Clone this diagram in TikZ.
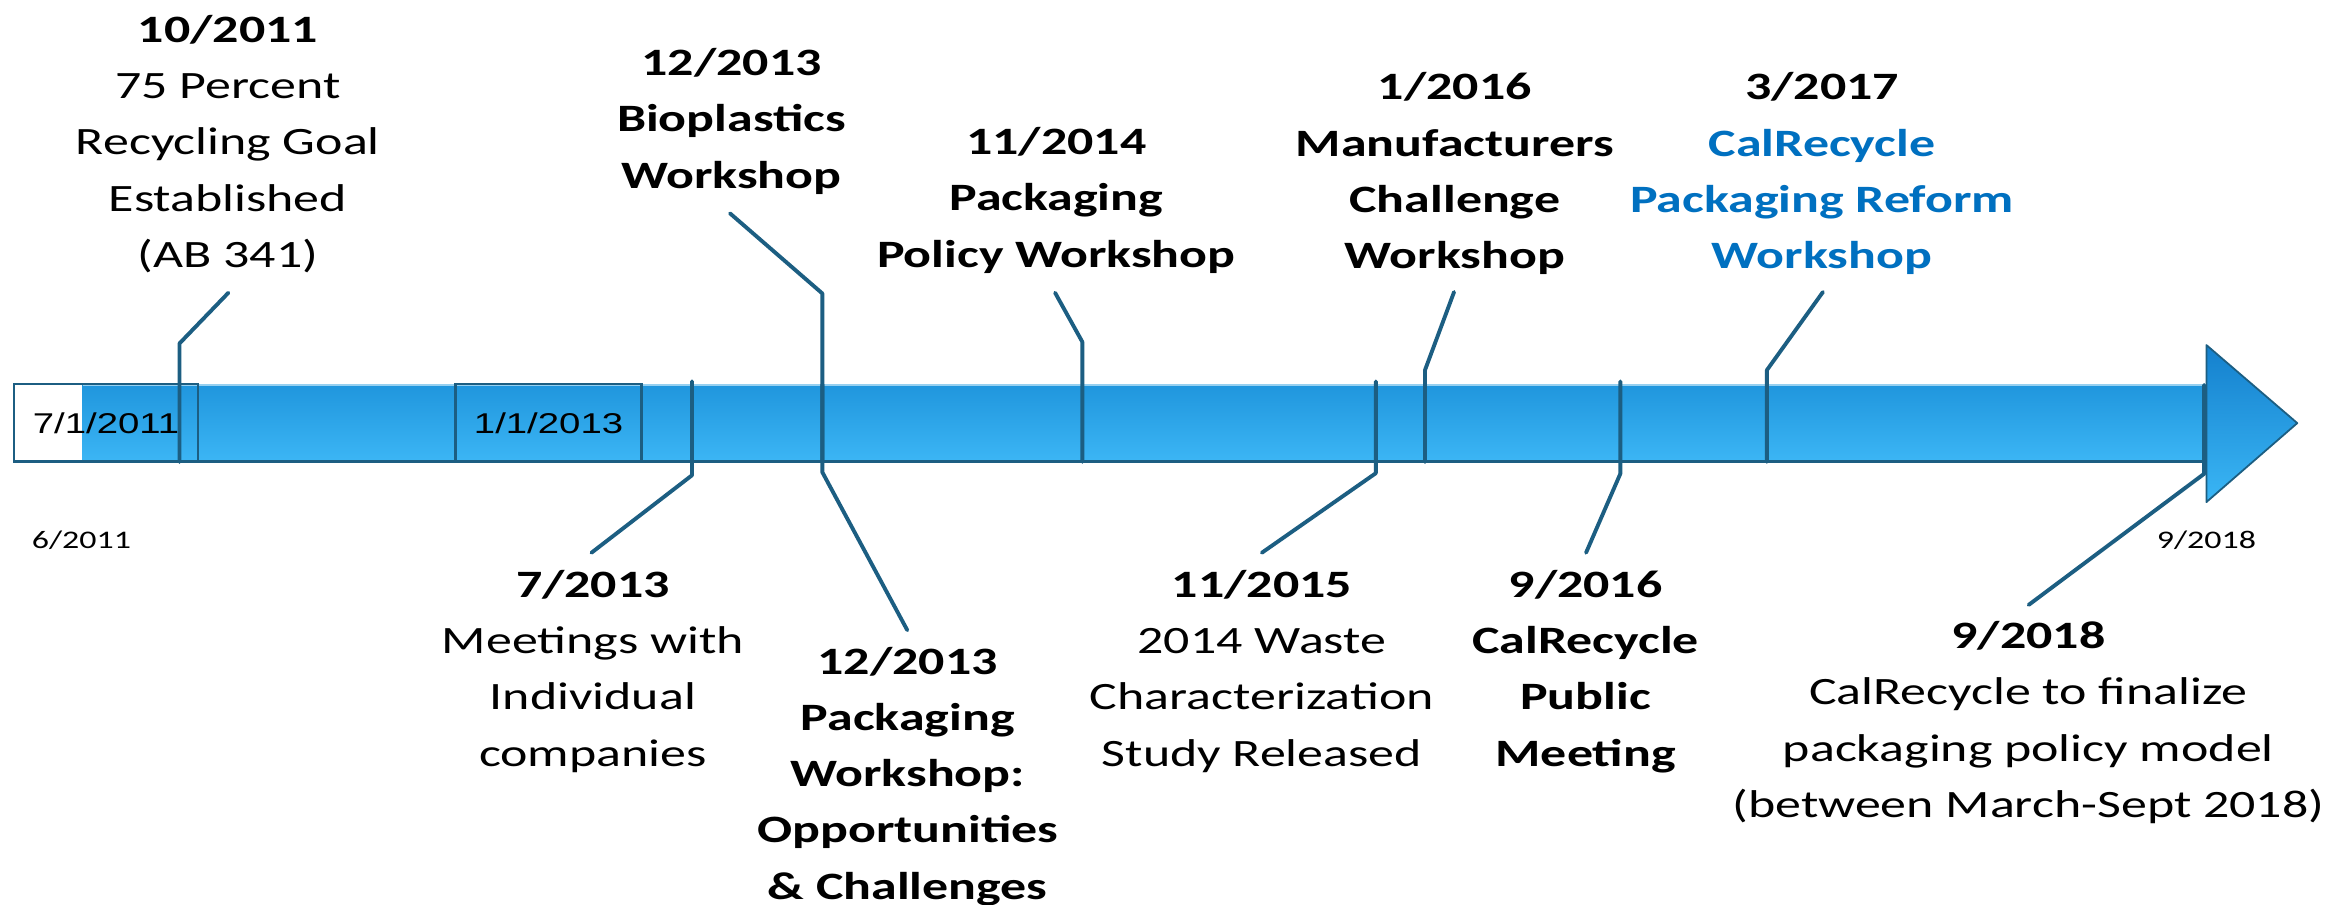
\documentclass[tikz,border=0pt]{standalone}
\usepackage{fontspec}
\setmainfont[FakeStretch=1.34]{Carlito}
\newfontfamily\boxfont[FakeStretch=1.34]{Liberation Sans}
\definecolor{tickcol}{RGB}{28,94,130}
\definecolor{barTop}{RGB}{32,150,221}
\definecolor{barBot}{RGB}{60,182,245}
\definecolor{barHi}{RGB}{150,208,240}
\definecolor{arrTop}{RGB}{20,128,205}
\definecolor{arrBot}{RGB}{58,182,245}
\definecolor{calblue}{RGB}{0,112,192}
\newcommand{\labfont}{\fontsize{13}{18.9}\selectfont}
\newcommand{\fs}{\rule{0pt}{13pt}}
\tikzset{
  lab/.style={align=center, anchor=north, inner sep=0pt, font=\labfont},
  blab/.style={lab, font=\labfont\bfseries},
  conn/.style={draw=tickcol, line width=1.3pt, line cap=round, line join=round},
  datebox/.style={draw=tickcol, line width=0.8pt, inner sep=0pt, minimum height=26.1pt, font=\boxfont\fontsize{9.6}{11}\selectfont},
  small/.style={anchor=base, inner sep=0pt, font=\fontsize{8.5}{10}\selectfont}
}
\begin{document}
\begin{tikzpicture}[x=0.5pt,y=-0.5pt]
\fill[white] (0,0) rectangle (1568,607);
\useasboundingbox (0,0) rectangle (1568,607);
% bar
\shade[top color=barTop, bottom color=barBot] (55.5,258.4) rectangle (1481,310);
\draw[barHi, line width=0.8pt] (55.5,258.6) -- (1481,258.6);
\draw[tickcol, line width=1pt] (9.4,310) -- (1481,310);
% date boxes
\node[datebox, minimum width=61.8pt] (b1) at (71.2,283.9) {7/1/2011};
\node[datebox, minimum width=62.45pt] (b2) at (368.2,283.8) {1/1/2013};
% arrowhead
\shade[top color=arrTop, bottom color=arrBot] (1481,231.6) -- (1542,284) -- (1481,337) -- cycle;
\draw[tickcol, line width=0.6pt, line join=round] (1481,231.6) -- (1542,284) -- (1481,337) -- cycle;
% labels above
\node[lab] (l1) at (153,2) {\fs\textbf{10/2011}\\75 Percent\\Recycling Goal\\Established\\(AB 341)};
\node[blab] (l2) at (491,24.3) {\fs 12/2013\\Bioplastics\\Workshop};
\node[blab] (l3) at (709,77.4) {\fs 11/2014\\Packaging\\Policy Workshop};
\node[blab] (l4) at (976.5,40.7) {\fs 1/2016\\Manufacturers\\Challenge\\Workshop};
\node[blab] (l5) at (1223,40.7) {\fs 3/2017\\\textcolor{calblue}{CalRecycle}\\\textcolor{calblue}{Packaging Reform}\\\textcolor{calblue}{Workshop}};
% labels below
\node[lab] (l6) at (398,374.5) {\fs\textbf{7/2013}\\Meetings with\\Individual\\companies};
\node[blab] (l7) at (609.3,426) {\fs 12/2013\\Packaging\\Workshop:\\Opportunities\\\& Challenges};
\node[lab] (l8) at (847,374.5) {\fs\textbf{11/2015}\\2014 Waste\\Characterization\\Study Released};
\node[blab] (l9) at (1064.3,374.5) {\fs 9/2016\\CalRecycle\\Public\\Meeting};
\node[lab] (l10) at (1361.5,409) {\fs\textbf{9/2018}\\CalRecycle to finalize\\packaging policy model\\(between March-Sept 2018)};
% small dates
\node[small] (s1) at (54.7,368) {6/2011};
\node[small] (s2) at (1481,368) {9/2018};
% connector points
\coordinate (c1a) at (153.3,196.5); \coordinate (c1b) at (120.5,230.5); \coordinate (c1c) at (120.5,310);
\coordinate (c2a) at (490,143.2); \coordinate (c2b) at (552,197); \coordinate (c2c) at (552,310);
\coordinate (c3a) at (708.2,196.5); \coordinate (c3b) at (726.5,229.5); \coordinate (c3c) at (726.5,310);
\coordinate (c4a) at (976,196); \coordinate (c4b) at (956.5,248.4); \coordinate (c4c) at (956.5,310);
\coordinate (c5a) at (1223.6,196); \coordinate (c5b) at (1186,248.4); \coordinate (c5c) at (1186,310);
\coordinate (c6a) at (464.5,256); \coordinate (c6b) at (464.5,319); \coordinate (c6c) at (397,371);
\coordinate (c7a) at (552,258); \coordinate (c7b) at (552,317); \coordinate (c7c) at (609,423);
\coordinate (c8a) at (923.5,256); \coordinate (c8b) at (923.5,317.6); \coordinate (c8c) at (847,371);
\coordinate (c9a) at (1087.6,256); \coordinate (c9b) at (1087.6,318); \coordinate (c9c) at (1064.6,371);
\coordinate (c10a) at (1479.5,258.4); \coordinate (c10b) at (1479.5,318); \coordinate (c10c) at (1361.7,406);
\draw[conn] (c1a) -- (c1b) -- (c1c);
\draw[conn] (c2a) -- (c2b) -- (c2c);
\draw[conn] (c3a) -- (c3b) -- (c3c);
\draw[conn] (c4a) -- (c4b) -- (c4c);
\draw[conn] (c5a) -- (c5b) -- (c5c);
\draw[conn] (c6a) -- (c6b) -- (c6c);
\draw[conn] (c7a) -- (c7b) -- (c7c);
\draw[conn] (c8a) -- (c8b) -- (c8c);
\draw[conn] (c9a) -- (c9b) -- (c9c);
\draw[conn] (c10a) -- (c10b) -- (c10c);
\end{tikzpicture}
\end{document}
